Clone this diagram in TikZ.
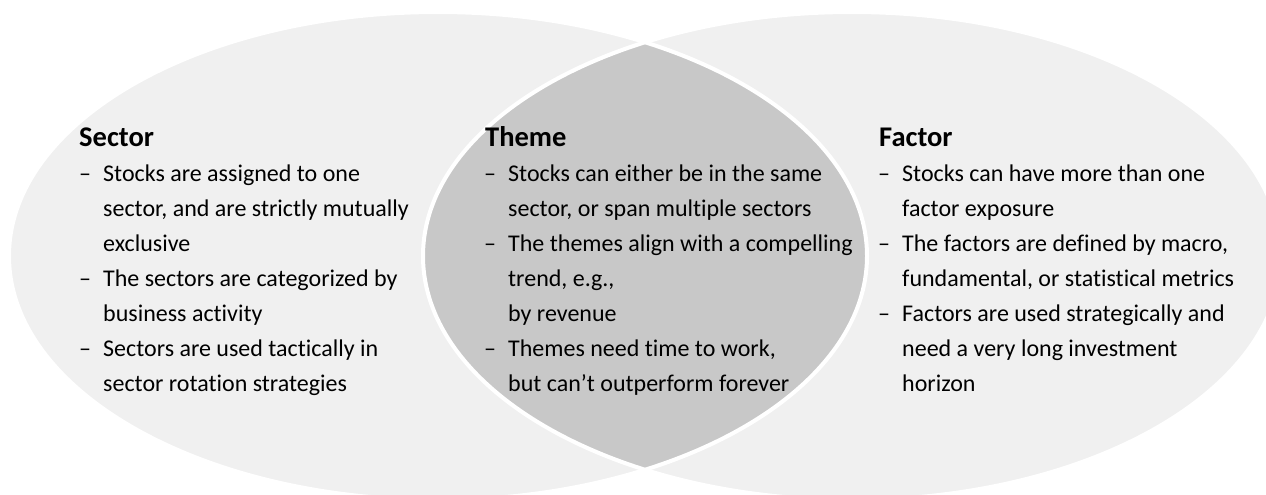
\documentclass[tikz,border=0pt]{standalone}
\usepackage{fontspec}
\setmainfont[Ligatures=NoCommon]{Carlito}
\definecolor{outerfill}{HTML}{F0F0F0}
\definecolor{lensfill}{HTML}{C8C8C8}
% hanging dash for list entries, and the matching indent for continuation lines
\newcommand{\dashitem}{\makebox[24pt][l]{–}}
\newcommand{\contline}{\hspace*{24pt}}
\begin{document}
\begin{tikzpicture}[x=1pt,y=-1pt,
  heading/.style={anchor=base west, inner sep=0pt, font=\fontsize{28.5}{34}\selectfont\bfseries},
  itemlist/.style={anchor=base west, inner sep=0pt, font=\fontsize{24}{35}\selectfont},
  rim/.style={draw=white, line width=4pt}]
\useasboundingbox (0,0) rectangle (1266,495);

% two overlapping ellipses with a darker lens in between
\begin{scope}
  \clip (0,0) rectangle (1266,495);
  \fill[outerfill] (438,256) ellipse [x radius=429pt, y radius=244pt];
  \fill[outerfill] (852,256) ellipse [x radius=429pt, y radius=244pt];
  \begin{scope}
    \clip (438,256) ellipse [x radius=429pt, y radius=244pt];
    \fill[lensfill] (852,256) ellipse [x radius=429pt, y radius=244pt];
  \end{scope}
  \draw[rim] (438,256) ellipse [x radius=429pt, y radius=244pt];
  \draw[rim] (852,256) ellipse [x radius=429pt, y radius=244pt];
\end{scope}

% Sector
\node[heading] (sectortitle) at (79,146) {Sector};
\node[itemlist] (sectorlist) at (79,181) {\parbox[t]{420pt}{%
\dashitem Stocks are assigned to one\\
\contline sector, and are strictly mutually\\
\contline exclusive\\
\dashitem The sectors are categorized by\\
\contline business activity\\
\dashitem Sectors are used tactically in\\
\contline sector rotation strategies}};

% Theme
\node[heading] (themetitle) at (485,146) {Theme};
\node[itemlist] (themelist) at (484,181) {\parbox[t]{420pt}{%
\dashitem Stocks can either be in the same\\
\contline sector, or span multiple sectors\\
\dashitem The themes align with a compelling\\
\contline trend, e.g.,\\
\contline by revenue\\
\dashitem Themes need time to work,\\
\contline but can’t outperform forever}};

% Factor
\node[heading] (factortitle) at (879,146) {Factor};
\node[itemlist] (factorlist) at (878,181) {\parbox[t]{420pt}{%
\dashitem Stocks can have more than one\\
\contline factor exposure\\
\dashitem The factors are defined by macro,\\
\contline fundamental, or statistical metrics\\
\dashitem Factors are used strategically and\\
\contline need a very long investment\\
\contline horizon}};
\end{tikzpicture}
\end{document}
